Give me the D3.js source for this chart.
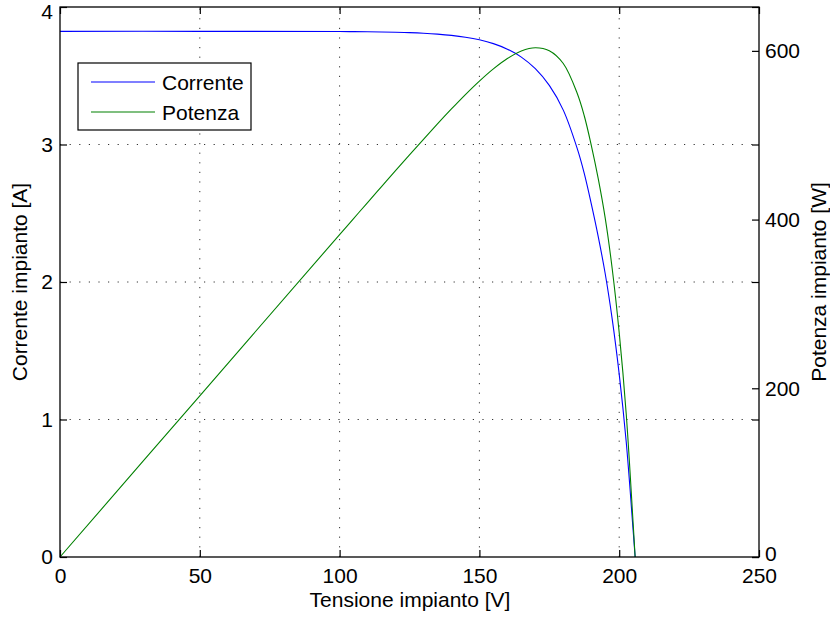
<!DOCTYPE html>
<html>
<head>
<meta charset="utf-8">
<script src="https://cdn.jsdelivr.net/npm/d3@7"></script>
<style>
  html, body { margin: 0; padding: 0; background: #fff; }
  svg { display: block; font-family: "Liberation Sans", Arial, Helvetica, sans-serif; }
</style>
</head>
<body>
<svg id="chart" width="830" height="618"></svg>
<script>
// I-V and P-V characteristic of the PV plant
const voltage = [0, 50, 100, 105, 110, 115, 120, 125, 130, 135, 140, 145, 150, 155, 160, 165, 170, 175, 180, 185, 187.5, 190, 192.5, 195, 197.5, 200, 202.5, 205, 205.7];
const current = [3.823, 3.823, 3.8215, 3.8208, 3.8198, 3.8184, 3.8163, 3.8133, 3.809, 3.8027, 3.7936, 3.7804, 3.7613, 3.7337, 3.6935, 3.6355, 3.5513, 3.4296, 3.25, 2.97, 2.79, 2.57, 2.33, 2.06, 1.73, 1.33, 0.84, 0.19, 0];
const power   = [0, 191.1, 382.2, 401.2, 420.2, 439.1, 458.0, 476.7, 495.2, 513.4, 531.1, 548.2, 564.2, 578.7, 591.0, 599.9, 603.7, 600.2, 585.0, 549.5, 523.1, 488.3, 448.5, 401.7, 341.7, 266.0, 170.1, 39.0, 0];

const xTicks = [0, 50, 100, 150, 200, 250];
const yLeftTicks = [0, 1, 2, 3, 4];
const yRightTicks = [0, 200, 400, 600];

const labels = {
  x: "Tensione impianto [V]",
  yLeft: "Corrente impianto [A]",
  yRight: "Potenza impianto [W]",
  series: ["Corrente", "Potenza"]
};
const colors = ["#0000ff", "#008000"];

const plotL = 60, plotR = 759, plotT = 7, plotB = 557;
const fontSize = 21;

const svg = d3.select("#chart");

const x = d3.scaleLinear().domain([0, 250]).range([plotL, plotR]);
const yL = d3.scaleLinear().domain([0, 4]).range([plotB, plotT]);
const yR = d3.scaleLinear().domain([0, 652]).range([plotB, plotT]);

// dotted grid at the inner ticks of x and of the left y axis
const grid = svg.append("g").attr("stroke", "#333").attr("stroke-width", 1)
  .attr("stroke-dasharray", "1.2,8.4");
xTicks.filter(t => t > 0 && t < 250).forEach(t => {
  grid.append("line").attr("x1", x(t)).attr("x2", x(t)).attr("y1", plotB).attr("y2", plotT);
});
yLeftTicks.filter(t => t > 0 && t < 4).forEach(t => {
  grid.append("line").attr("x1", plotL).attr("x2", plotR).attr("y1", yL(t)).attr("y2", yL(t));
});

// curves
const lineI = d3.line().x((d, i) => x(voltage[i])).y(d => yL(d)).curve(d3.curveCatmullRom.alpha(0.5));
const lineP = d3.line().x((d, i) => x(voltage[i])).y(d => yR(d)).curve(d3.curveCatmullRom.alpha(0.5));

svg.append("path").datum(current).attr("d", lineI)
  .attr("fill", "none").attr("stroke", colors[0]).attr("stroke-width", 1.1);
svg.append("path").datum(power).attr("d", lineP)
  .attr("fill", "none").attr("stroke", colors[1]).attr("stroke-width", 1.1);

// axes with inward ticks
function styleAxis(g) {
  g.select(".domain").remove();
  g.selectAll(".tick line").attr("stroke", "#000").attr("stroke-width", 1.2);
  g.selectAll(".tick text").attr("fill", "#000").attr("font-size", fontSize)
    .attr("font-family", "Liberation Sans, Arial, Helvetica, sans-serif");
}

svg.append("g").attr("transform", `translate(0,${plotB})`)
  .call(d3.axisBottom(x).tickValues(xTicks).tickSize(-7).tickPadding(11).tickFormat(d3.format("d")))
  .call(styleAxis);
svg.append("g").attr("transform", `translate(0,${plotT})`)
  .call(d3.axisTop(x).tickValues(xTicks).tickSize(-7).tickFormat(""))
  .call(styleAxis);
const leftAxis = svg.append("g").attr("transform", `translate(${plotL},0)`)
  .call(d3.axisLeft(yL).tickValues(yLeftTicks).tickSize(-7).tickPadding(7).tickFormat(d3.format("d")))
  .call(styleAxis);
// keep the top label inside the page
leftAxis.selectAll(".tick text").filter(d => d === 4).attr("y", 5);
svg.append("g").attr("transform", `translate(${plotR},0)`)
  .call(d3.axisRight(yL).tickValues(yLeftTicks).tickSize(-7).tickFormat(""))
  .call(styleAxis);
const rightAxis = svg.append("g").attr("transform", `translate(${plotR},0)`)
  .call(d3.axisRight(yR).tickValues(yRightTicks).tickSize(-7).tickPadding(6).tickFormat(d3.format("d")))
  .call(styleAxis);
// lift the bottom-right label clear of the last x label
rightAxis.selectAll(".tick text").filter(d => d === 0).attr("y", -3);

// plot box
svg.append("rect").attr("x", plotL).attr("y", plotT)
  .attr("width", plotR - plotL).attr("height", plotB - plotT)
  .attr("fill", "none").attr("stroke", "#000").attr("stroke-width", 1.3);

// axis titles
svg.append("text").attr("x", (plotL + plotR) / 2 + 0.5).attr("y", 607)
  .attr("text-anchor", "middle").attr("font-size", fontSize).text(labels.x);
svg.append("text").attr("transform", `translate(27,${(plotT + plotB) / 2}) rotate(-90)`)
  .attr("text-anchor", "middle").attr("font-size", fontSize).text(labels.yLeft);
svg.append("text").attr("transform", `translate(826,${(plotT + plotB) / 2}) rotate(-90)`)
  .attr("text-anchor", "middle").attr("font-size", fontSize).text(labels.yRight);

// legend
const legend = svg.append("g");
legend.append("rect").attr("x", 78).attr("y", 63).attr("width", 173).attr("height", 67)
  .attr("fill", "#fff").attr("stroke", "#000").attr("stroke-width", 1.2);
labels.series.forEach((s, i) => {
  const ly = 82 + i * 30;
  legend.append("line").attr("x1", 91).attr("x2", 155).attr("y1", ly).attr("y2", ly)
    .attr("stroke", colors[i]).attr("stroke-width", 1.1);
  legend.append("text").attr("x", 162).attr("y", ly).attr("dy", "0.36em")
    .attr("font-size", fontSize).text(s);
});
</script>
</body>
</html>
